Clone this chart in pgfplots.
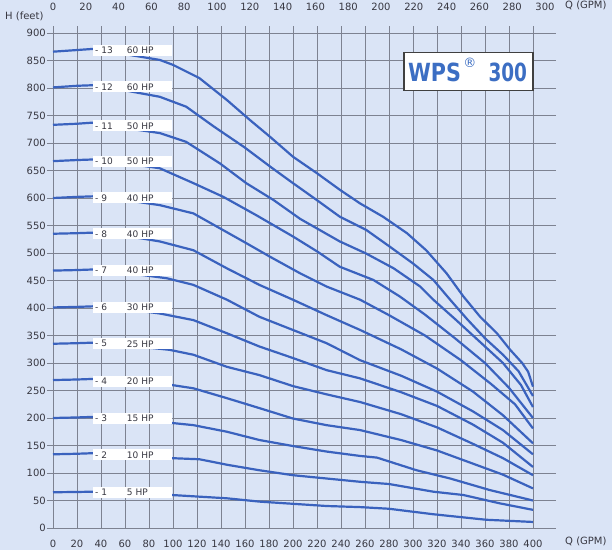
\documentclass[border=0pt]{standalone}
\usepackage{fontspec}
\setmainfont{DejaVu Sans}
\newfontfamily\condfont{DejaVu Sans Condensed}
\usepackage{pgfplots}
\pgfplotsset{compat=1.18}
\definecolor{bg}{RGB}{218,228,246}
\definecolor{gridc}{RGB}{125,130,145}
\definecolor{curve}{RGB}{58,98,190}
\definecolor{wps}{RGB}{60,110,195}
\definecolor{txt}{RGB}{55,55,65}
\newcommand{\lbl}[3]{%
  \node[fill=white, minimum width=79pt, minimum height=11pt, anchor=west, inner sep=0pt] at (axis cs:33,#1) {};
  \node[anchor=west, inner sep=0pt, text=txt, font=\fontsize{9}{10}\selectfont] at (axis cs:35,#1) {- #2};
  \node[anchor=west, inner sep=0pt, text=txt, font=\fontsize{9}{10}\selectfont] at (axis cs:61.5,#1) {#3 HP};
}
\begin{document}
\begin{tikzpicture}[x=1pt,y=1pt]
\fill[bg] (0,0) rectangle (612,550);
\begin{axis}[
  at={(53pt,22pt)}, anchor=south west, scale only axis,
  width=503pt, height=502pt,
  xmin=0, xmax=419.2, ymin=0, ymax=912.7,
  xtick={0,20,...,400}, ytick={0,50,...,900},
  grid=major, major grid style={gridc, line width=0.6pt},
  axis line style={draw=none},
  tick align=outside, xtick pos=bottom, ytick pos=left,
  major tick length=6pt,
  tick style={gridc, line width=0.6pt},
  xtick style={draw=none},
  ticklabel style={font=\fontsize{10}{12}\selectfont, text=txt},
  /pgf/number format/assume math mode=true,
  yticklabel style={inner sep=1pt},
  xticklabel style={yshift=-3pt},
  clip=false,
]
\addplot[curve, line width=2.2pt, line join=round] coordinates {(0,866)(20,869)(33,871)(50,866)(64,860)(89,851)(100,842)(122,818)(145,778)(164,742)(181,711)(200,675)(220,645)(239,615)(256,590)(275,566)(295,536)(311,505)(328,463)(342,421)(356,384)(370,354)(381,324)(391,300)(396,284)(400,257)};
\addplot[curve, line width=2.2pt, line join=round] coordinates {(0,801)(20,804)(33,805)(50,800)(64,794)(89,784)(111,766)(134,730)(159,693)(181,657)(200,627)(220,596)(239,566)(261,542)(281,511)(300,481)(317,451)(331,415)(345,380)(360,345)(375,315)(388,285)(400,240)};
\addplot[curve, line width=2.2pt, line join=round] coordinates {(0,733)(20,735)(33,737)(50,732)(64,726)(89,718)(111,702)(139,663)(161,627)(184,596)(206,562)(239,521)(261,499)(284,472)(306,439)(317,415)(335,380)(355,340)(375,300)(390,260)(400,220)};
\addplot[curve, line width=2.2pt, line join=round] coordinates {(0,667)(20,669)(33,670)(50,667)(64,662)(89,654)(117,627)(142,602)(170,568)(200,530)(220,503)(239,475)(267,451)(289,421)(310,388)(335,345)(360,300)(380,255)(400,200)};
\addplot[curve, line width=2.2pt, line join=round] coordinates {(0,600)(20,602)(33,603)(50,600)(64,595)(89,587)(117,572)(139,545)(161,518)(181,493)(206,463)(228,439)(256,415)(280,387)(310,350)(340,305)(365,262)(385,225)(400,181)};
\addplot[curve, line width=2.2pt, line join=round] coordinates {(0,535)(20,536)(33,537)(50,534)(64,530)(89,521)(117,505)(145,472)(172,442)(200,415)(228,387)(256,360)(290,325)(320,290)(350,248)(375,205)(400,154)};
\addplot[curve, line width=2.2pt, line join=round] coordinates {(0,468)(20,469)(33,470)(50,467)(64,463)(95,454)(117,442)(145,415)(172,384)(200,360)(228,336)(256,305)(290,277)(320,248)(350,212)(375,178)(400,134)};
\addplot[curve, line width=2.2pt, line join=round] coordinates {(0,401)(20,402)(33,403)(50,400)(64,397)(89,390)(117,378)(145,354)(172,330)(200,309)(228,287)(256,272)(290,247)(320,222)(350,188)(375,155)(400,111)};
\addplot[curve, line width=2.2pt, line join=round] coordinates {(0,335)(20,336)(33,337)(50,334)(70,330)(97,324)(117,315)(145,293)(172,278)(200,258)(228,243)(256,229)(290,207)(320,183)(350,153)(375,127)(400,96)};
\addplot[curve, line width=2.2pt, line join=round] coordinates {(0,269)(20,270)(33,271)(50,268)(70,265)(99,260)(117,254)(145,236)(172,218)(200,199)(228,187)(256,178)(290,160)(320,141)(350,117)(375,97)(400,72)};
\addplot[curve, line width=2.2pt, line join=round] coordinates {(0,200)(20,201)(33,202)(50,200)(70,196)(99,191)(117,187)(145,175)(172,160)(200,149)(228,139)(256,131)(270,128)(303,105)(331,90)(364,69)(400,50)};
\addplot[curve, line width=2.2pt, line join=round] coordinates {(0,134)(20,135)(33,136)(50,133)(70,130)(99,127)(122,125)(145,115)(172,105)(200,96)(228,90)(256,84)(280,80)(317,66)(342,60)(372,45)(400,33)};
\addplot[curve, line width=2.2pt, line join=round] coordinates {(0,65)(20,65.5)(33,66)(50,64)(70,62)(99,60)(145,54)(172,48)(200,44)(228,40)(256,38)(280,35)(317,25)(361,15)(400,11)};
\lbl{868}{13}{60}
\lbl{802}{12}{60}
\lbl{731}{11}{50}
\lbl{667}{10}{50}
\lbl{600}{9}{40}
\lbl{535}{8}{40}
\lbl{469}{7}{40}
\lbl{401}{6}{30}
\lbl{335}{5}{25}
\lbl{267}{4}{20}
\lbl{200}{3}{15}
\lbl{133}{2}{10}
\lbl{65}{1}{5}
\node[draw=black!75, line width=1.6pt, fill=white, minimum width=129pt, minimum height=38pt, anchor=north west, inner sep=0pt] at (axis cs:291.7,866) {};
\node[text=wps, inner sep=0pt, font=\condfont\bfseries\fontsize{25}{25}\selectfont] at (axis cs:318,829) {\scalebox{0.92}[1]{WPS}};
\node[text=wps, inner sep=0pt, font=\fontsize{13}{13}\selectfont] at (axis cs:347.5,846) {®};
\node[text=wps, inner sep=0pt, font=\condfont\bfseries\fontsize{25}{25}\selectfont] at (axis cs:379,829) {\scalebox{0.82}[1]{300}};
\end{axis}
\begin{axis}[
  at={(53pt,22pt)}, anchor=south west, scale only axis,
  width=503pt, height=502pt,
  xmin=0, xmax=306.7, ymin=0, ymax=1,
  axis x line*=top, hide y axis,
  axis line style={draw=none},
  xtick={0,20,...,300}, xtick style={draw=none},
  ticklabel style={font=\fontsize{10}{12}\selectfont, text=txt},
  /pgf/number format/assume math mode=true,
  xticklabel style={yshift=12pt},
]
\addplot[draw=none] coordinates {(0,0)};
\end{axis}
\node[text=txt, font=\fontsize{10}{12}\selectfont, anchor=west, inner sep=0pt] at (565pt,9pt) {Q (GPM)};
\node[text=txt, font=\fontsize{10}{12}\selectfont, anchor=west, inner sep=0pt] at (565pt,545pt) {Q (GPM)};
\node[text=txt, font=\fontsize{10}{12}\selectfont, anchor=west, inner sep=0pt] at (5pt,534pt) {H (feet)};
\pgfresetboundingbox
\useasboundingbox (0,0) rectangle (612,550);
\end{tikzpicture}
\end{document}
